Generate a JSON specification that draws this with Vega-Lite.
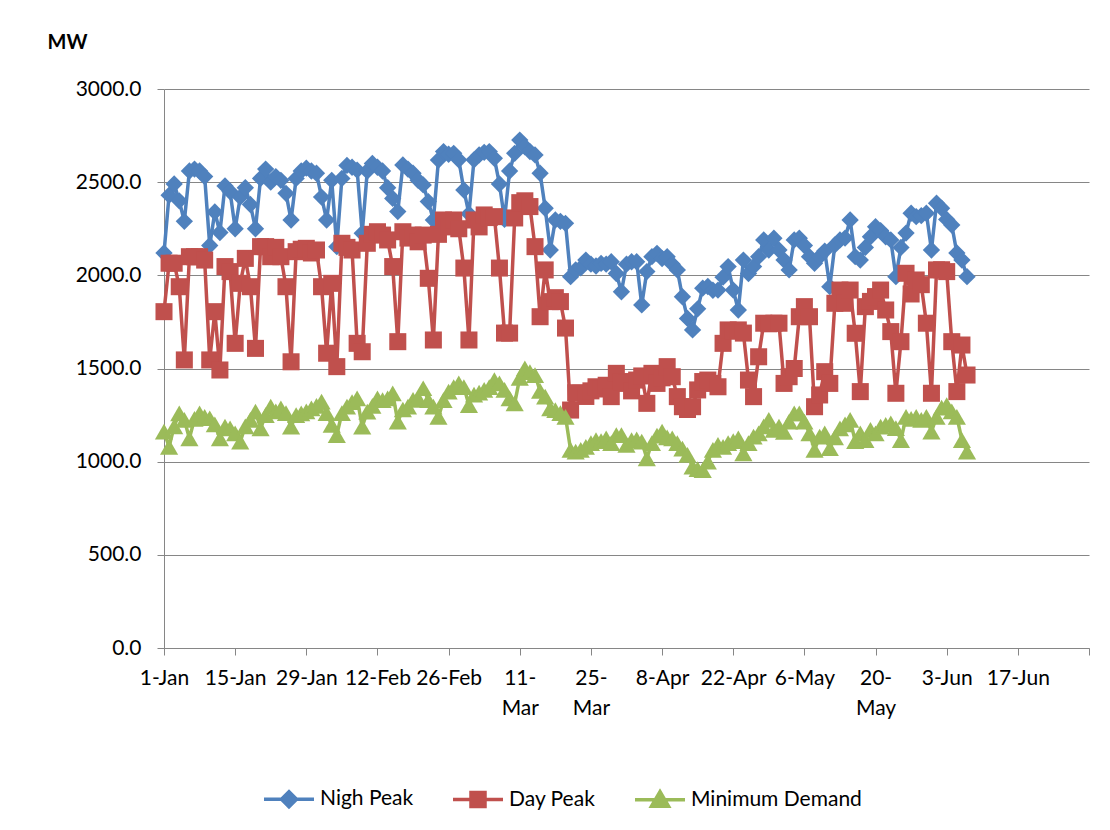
{
  "$schema": "https://vega.github.io/schema/vega-lite/v6.json",
  "autosize": {"type": "none"},
  "width": 925,
  "height": 559,
  "padding": {"left": 164, "top": 89, "right": 21, "bottom": 182},
  "background": "white",
  "data": {"values": [
    {"date":"2012-01-01","night":2120,"day":1805,"min":1161},
    {"date":"2012-01-02","night":2430,"day":2065,"min":1080},
    {"date":"2012-01-03","night":2490,"day":2065,"min":1190},
    {"date":"2012-01-04","night":2400,"day":1939,"min":1259},
    {"date":"2012-01-05","night":2290,"day":1546,"min":1224},
    {"date":"2012-01-06","night":2560,"day":2100,"min":1125},
    {"date":"2012-01-07","night":2570,"day":2100,"min":1230},
    {"date":"2012-01-08","night":2560,"day":2100,"min":1259},
    {"date":"2012-01-09","night":2530,"day":2082,"min":1240},
    {"date":"2012-01-10","night":2160,"day":1546,"min":1233},
    {"date":"2012-01-11","night":2340,"day":1805,"min":1200},
    {"date":"2012-01-12","night":2230,"day":1492,"min":1125},
    {"date":"2012-01-13","night":2480,"day":2047,"min":1188},
    {"date":"2012-01-14","night":2450,"day":2020,"min":1179},
    {"date":"2012-01-15","night":2250,"day":1635,"min":1152},
    {"date":"2012-01-16","night":2420,"day":1957,"min":1107},
    {"date":"2012-01-17","night":2470,"day":2091,"min":1190},
    {"date":"2012-01-18","night":2380,"day":1939,"min":1224},
    {"date":"2012-01-19","night":2250,"day":1608,"min":1268},
    {"date":"2012-01-20","night":2520,"day":2154,"min":1179},
    {"date":"2012-01-21","night":2570,"day":2154,"min":1250},
    {"date":"2012-01-22","night":2500,"day":2100,"min":1295},
    {"date":"2012-01-23","night":2530,"day":2150,"min":1270},
    {"date":"2012-01-24","night":2510,"day":2100,"min":1286},
    {"date":"2012-01-25","night":2440,"day":1939,"min":1260},
    {"date":"2012-01-26","night":2297,"day":1536,"min":1188},
    {"date":"2012-01-27","night":2520,"day":2127,"min":1250},
    {"date":"2012-01-28","night":2560,"day":2140,"min":1259},
    {"date":"2012-01-29","night":2575,"day":2145,"min":1270},
    {"date":"2012-01-30","night":2560,"day":2120,"min":1286},
    {"date":"2012-01-31","night":2548,"day":2136,"min":1300},
    {"date":"2012-02-01","night":2420,"day":1939,"min":1322},
    {"date":"2012-02-02","night":2297,"day":1582,"min":1260},
    {"date":"2012-02-03","night":2510,"day":1957,"min":1197},
    {"date":"2012-02-04","night":2154,"day":1510,"min":1143},
    {"date":"2012-02-05","night":2520,"day":2172,"min":1260},
    {"date":"2012-02-06","night":2590,"day":2150,"min":1295},
    {"date":"2012-02-07","night":2580,"day":2136,"min":1320},
    {"date":"2012-02-08","night":2565,"day":1635,"min":1340},
    {"date":"2012-02-09","night":2226,"day":1590,"min":1188},
    {"date":"2012-02-10","night":2560,"day":2172,"min":1268},
    {"date":"2012-02-11","night":2600,"day":2220,"min":1300},
    {"date":"2012-02-12","night":2580,"day":2234,"min":1340},
    {"date":"2012-02-13","night":2560,"day":2216,"min":1330},
    {"date":"2012-02-14","night":2470,"day":2190,"min":1340},
    {"date":"2012-02-15","night":2413,"day":2047,"min":1367},
    {"date":"2012-02-16","night":2342,"day":1644,"min":1215},
    {"date":"2012-02-17","night":2592,"day":2234,"min":1280},
    {"date":"2012-02-18","night":2570,"day":2200,"min":1295},
    {"date":"2012-02-19","night":2548,"day":2216,"min":1331},
    {"date":"2012-02-20","night":2510,"day":2180,"min":1340},
    {"date":"2012-02-21","night":2485,"day":2216,"min":1394},
    {"date":"2012-02-22","night":2396,"day":1984,"min":1330},
    {"date":"2012-02-23","night":2297,"day":1653,"min":1295},
    {"date":"2012-02-24","night":2619,"day":2220,"min":1240},
    {"date":"2012-02-25","night":2664,"day":2297,"min":1330},
    {"date":"2012-02-26","night":2650,"day":2260,"min":1376},
    {"date":"2012-02-27","night":2655,"day":2297,"min":1400},
    {"date":"2012-02-28","night":2620,"day":2250,"min":1420},
    {"date":"2012-02-29","night":2458,"day":2039,"min":1400},
    {"date":"2012-03-01","night":2330,"day":1653,"min":1304},
    {"date":"2012-03-02","night":2620,"day":2297,"min":1360},
    {"date":"2012-03-03","night":2646,"day":2260,"min":1370},
    {"date":"2012-03-04","night":2660,"day":2324,"min":1385},
    {"date":"2012-03-05","night":2664,"day":2310,"min":1400},
    {"date":"2012-03-06","night":2628,"day":2315,"min":1438},
    {"date":"2012-03-07","night":2490,"day":2039,"min":1420},
    {"date":"2012-03-08","night":2300,"day":1690,"min":1385},
    {"date":"2012-03-09","night":2560,"day":1690,"min":1340},
    {"date":"2012-03-10","night":2655,"day":2308,"min":1313},
    {"date":"2012-03-11","night":2726,"day":2390,"min":1450},
    {"date":"2012-03-12","night":2690,"day":2400,"min":1501},
    {"date":"2012-03-13","night":2664,"day":2369,"min":1480},
    {"date":"2012-03-14","night":2646,"day":2154,"min":1465},
    {"date":"2012-03-15","night":2548,"day":1778,"min":1380},
    {"date":"2012-03-16","night":2360,"day":2029,"min":1349},
    {"date":"2012-03-17","night":2136,"day":1859,"min":1286},
    {"date":"2012-03-18","night":2297,"day":1880,"min":1277},
    {"date":"2012-03-19","night":2290,"day":1859,"min":1260},
    {"date":"2012-03-20","night":2279,"day":1717,"min":1241},
    {"date":"2012-03-21","night":1993,"day":1277,"min":1063},
    {"date":"2012-03-22","night":2029,"day":1370,"min":1054},
    {"date":"2012-03-23","night":2040,"day":1367,"min":1063},
    {"date":"2012-03-24","night":2082,"day":1350,"min":1080},
    {"date":"2012-03-25","night":2060,"day":1380,"min":1100},
    {"date":"2012-03-26","night":2050,"day":1402,"min":1116},
    {"date":"2012-03-27","night":2064,"day":1390,"min":1110},
    {"date":"2012-03-28","night":2060,"day":1410,"min":1125},
    {"date":"2012-03-29","night":2073,"day":1349,"min":1100},
    {"date":"2012-03-30","night":2010,"day":1474,"min":1143},
    {"date":"2012-03-31","night":1912,"day":1430,"min":1143},
    {"date":"2012-04-01","night":2060,"day":1420,"min":1090},
    {"date":"2012-04-02","night":2073,"day":1380,"min":1116},
    {"date":"2012-04-03","night":2073,"day":1438,"min":1120},
    {"date":"2012-04-04","night":1841,"day":1460,"min":1107},
    {"date":"2012-04-05","night":2020,"day":1313,"min":1018},
    {"date":"2012-04-06","night":2100,"day":1474,"min":1100},
    {"date":"2012-04-07","night":2118,"day":1420,"min":1140},
    {"date":"2012-04-08","night":2090,"day":1450,"min":1161},
    {"date":"2012-04-09","night":2100,"day":1510,"min":1130},
    {"date":"2012-04-10","night":2060,"day":1456,"min":1125},
    {"date":"2012-04-11","night":2029,"day":1349,"min":1099},
    {"date":"2012-04-12","night":1885,"day":1295,"min":1070},
    {"date":"2012-04-13","night":1769,"day":1280,"min":1036},
    {"date":"2012-04-14","night":1707,"day":1295,"min":973},
    {"date":"2012-04-15","night":1820,"day":1385,"min":960},
    {"date":"2012-04-16","night":1931,"day":1430,"min":955},
    {"date":"2012-04-17","night":1940,"day":1438,"min":1000},
    {"date":"2012-04-18","night":1920,"day":1420,"min":1063},
    {"date":"2012-04-19","night":1921,"day":1402,"min":1090},
    {"date":"2012-04-20","night":1990,"day":1635,"min":1080},
    {"date":"2012-04-21","night":2047,"day":1707,"min":1099},
    {"date":"2012-04-22","night":1921,"day":1700,"min":1110},
    {"date":"2012-04-23","night":1814,"day":1707,"min":1125},
    {"date":"2012-04-24","night":2082,"day":1690,"min":1045},
    {"date":"2012-04-25","night":2010,"day":1438,"min":1100},
    {"date":"2012-04-26","night":2047,"day":1349,"min":1134},
    {"date":"2012-04-27","night":2100,"day":1563,"min":1152},
    {"date":"2012-04-28","night":2190,"day":1743,"min":1190},
    {"date":"2012-04-29","night":2136,"day":1740,"min":1224},
    {"date":"2012-04-30","night":2199,"day":1743,"min":1170},
    {"date":"2012-05-01","night":2136,"day":1743,"min":1188},
    {"date":"2012-05-02","night":2082,"day":1420,"min":1160},
    {"date":"2012-05-03","night":2029,"day":1456,"min":1215},
    {"date":"2012-05-04","night":2190,"day":1500,"min":1259},
    {"date":"2012-05-05","night":2199,"day":1778,"min":1259},
    {"date":"2012-05-06","night":2160,"day":1832,"min":1215},
    {"date":"2012-05-07","night":2100,"day":1778,"min":1152},
    {"date":"2012-05-08","night":2065,"day":1295,"min":1063},
    {"date":"2012-05-09","night":2100,"day":1358,"min":1134},
    {"date":"2012-05-10","night":2130,"day":1483,"min":1152},
    {"date":"2012-05-11","night":1939,"day":1420,"min":1072},
    {"date":"2012-05-12","night":2163,"day":1850,"min":1130},
    {"date":"2012-05-13","night":2190,"day":1921,"min":1179},
    {"date":"2012-05-14","night":2200,"day":1850,"min":1200},
    {"date":"2012-05-15","night":2297,"day":1921,"min":1224},
    {"date":"2012-05-16","night":2100,"day":1689,"min":1110},
    {"date":"2012-05-17","night":2082,"day":1376,"min":1152},
    {"date":"2012-05-18","night":2150,"day":1832,"min":1116},
    {"date":"2012-05-19","night":2207,"day":1860,"min":1170},
    {"date":"2012-05-20","night":2261,"day":1886,"min":1152},
    {"date":"2012-05-21","night":2240,"day":1921,"min":1188},
    {"date":"2012-05-22","night":2207,"day":1814,"min":1197},
    {"date":"2012-05-23","night":2190,"day":1698,"min":1206},
    {"date":"2012-05-24","night":1993,"day":1367,"min":1180},
    {"date":"2012-05-25","night":2150,"day":1644,"min":1116},
    {"date":"2012-05-26","night":2227,"day":2011,"min":1241},
    {"date":"2012-05-27","night":2333,"day":1900,"min":1230},
    {"date":"2012-05-28","night":2315,"day":1975,"min":1241},
    {"date":"2012-05-29","night":2320,"day":1950,"min":1224},
    {"date":"2012-05-30","night":2333,"day":1743,"min":1241},
    {"date":"2012-05-31","night":2136,"day":1367,"min":1161},
    {"date":"2012-06-01","night":2387,"day":2029,"min":1240},
    {"date":"2012-06-02","night":2360,"day":2030,"min":1290},
    {"date":"2012-06-03","night":2300,"day":2020,"min":1304},
    {"date":"2012-06-04","night":2270,"day":1644,"min":1270},
    {"date":"2012-06-05","night":2120,"day":1376,"min":1241},
    {"date":"2012-06-06","night":2082,"day":1626,"min":1116},
    {"date":"2012-06-07","night":1993,"day":1465,"min":1054}
  ]},
  "encoding": {
    "x": {
      "field": "date",
      "type": "temporal",
      "title": null,
      "scale": {
        "type": "utc",
        "domain": [
          {"year": 2012, "month": 1, "date": 1, "utc": true},
          {"year": 2012, "month": 7, "date": 1, "utc": true}
        ]
      },
      "axis": {
        "values": [
          {"year": 2012, "month": 1, "date": 1, "utc": true},
          {"year": 2012, "month": 1, "date": 15, "utc": true},
          {"year": 2012, "month": 1, "date": 29, "utc": true},
          {"year": 2012, "month": 2, "date": 12, "utc": true},
          {"year": 2012, "month": 2, "date": 26, "utc": true},
          {"year": 2012, "month": 3, "date": 11, "utc": true},
          {"year": 2012, "month": 3, "date": 25, "utc": true},
          {"year": 2012, "month": 4, "date": 8, "utc": true},
          {"year": 2012, "month": 4, "date": 22, "utc": true},
          {"year": 2012, "month": 5, "date": 6, "utc": true},
          {"year": 2012, "month": 5, "date": 20, "utc": true},
          {"year": 2012, "month": 6, "date": 3, "utc": true},
          {"year": 2012, "month": 6, "date": 17, "utc": true},
          {"year": 2012, "month": 7, "date": 1, "utc": true}
        ],
        "labelExpr": "utcFormat(datum.value, '%-d-%b') == '11-Mar' ? ['11-', 'Mar'] : utcFormat(datum.value, '%-d-%b') == '25-Mar' ? ['25-', 'Mar'] : utcFormat(datum.value, '%-d-%b') == '20-May' ? ['20-', 'May'] : utcFormat(datum.value, '%-d-%b') == '1-Jul' ? '' : utcFormat(datum.value, '%-d-%b')"
      }
    }
  },
  "layer": [
    {
      "layer": [
        {
          "mark": {"type": "line", "strokeWidth": 3.5, "strokeJoin": "round"},
          "encoding": {
            "y": {"field": "night", "type": "quantitative", "title": "MW", "scale": {"domain": [0, 3000], "nice": false}, "axis": {"values": [0, 500, 1000, 1500, 2000, 2500, 3000], "format": ".1f"}},
            "color": {
              "datum": "Nigh Peak",
              "type": "nominal",
              "scale": {
                "domain": ["Nigh Peak", "Day Peak", "Minimum Demand"],
                "range": ["#4F81BD", "#C0504D", "#9BBB59"]
              },
              "legend": {
                "title": null,
                "orient": "none",
                "legendX": 98,
                "legendY": 683,
                "direction": "horizontal",
                "padding": 0,
                "symbolSize": 2500,
                "symbolStrokeWidth": 3.5,
                "labelOffset": 4,
                "columnPadding": 32,
                "labelLimit": 0,
                "labelFont": "Lato",
                "labelFontSize": 21,
                "labelColor": "#000000",
                "encode": {
                  "symbols": {
                    "update": {
                      "shape": {"signal": "datum.value === 'Nigh Peak' ? 'M-1,0H1M-0.3,0L0,-0.3L0.3,0L0,0.3Z' : datum.value === 'Day Peak' ? 'M-1,0H1M-0.28,-0.28H0.28V0.28H-0.28Z' : 'M-1,0H1M0,-0.32L0.34,0.26H-0.34Z'"},
                      "fill": {"scale": "color", "field": "value"},
                      "stroke": {"scale": "color", "field": "value"},
                      "strokeWidth": {"value": 3.5},
                      "opacity": {"value": 1}
                    }
                  }
                }
              }
            }
          }
        },
        {
          "mark": {"type": "point", "shape": "diamond", "filled": true, "size": 300, "opacity": 1},
          "encoding": {
            "y": {"field": "night", "type": "quantitative", "title": "MW", "scale": {"domain": [0, 3000], "nice": false}, "axis": {"values": [0, 500, 1000, 1500, 2000, 2500, 3000], "format": ".1f"}},
            "color": {"datum": "Nigh Peak", "type": "nominal"}
          }
        }
      ]
    },
    {
      "layer": [
        {
          "mark": {"type": "line", "strokeWidth": 3.5, "strokeJoin": "round"},
          "encoding": {
            "y": {"field": "day", "type": "quantitative", "title": "MW", "scale": {"domain": [0, 3000], "nice": false}, "axis": {"values": [0, 500, 1000, 1500, 2000, 2500, 3000], "format": ".1f"}},
            "color": {"datum": "Day Peak", "type": "nominal"}
          }
        },
        {
          "mark": {"type": "point", "shape": "square", "filled": true, "size": 290, "opacity": 1},
          "encoding": {
            "y": {"field": "day", "type": "quantitative", "title": "MW", "scale": {"domain": [0, 3000], "nice": false}, "axis": {"values": [0, 500, 1000, 1500, 2000, 2500, 3000], "format": ".1f"}},
            "color": {"datum": "Day Peak", "type": "nominal"}
          }
        }
      ]
    },
    {
      "layer": [
        {
          "mark": {"type": "line", "strokeWidth": 3.5, "strokeJoin": "round"},
          "encoding": {
            "y": {"field": "min", "type": "quantitative", "title": "MW", "scale": {"domain": [0, 3000], "nice": false}, "axis": {"values": [0, 500, 1000, 1500, 2000, 2500, 3000], "format": ".1f"}},
            "color": {"datum": "Minimum Demand", "type": "nominal"}
          }
        },
        {
          "mark": {"type": "point", "shape": "triangle-up", "filled": true, "size": 330, "opacity": 1},
          "encoding": {
            "y": {"field": "min", "type": "quantitative", "title": "MW", "scale": {"domain": [0, 3000], "nice": false}, "axis": {"values": [0, 500, 1000, 1500, 2000, 2500, 3000], "format": ".1f"}},
            "color": {"datum": "Minimum Demand", "type": "nominal"}
          }
        }
      ]
    }
  ],
  "resolve": {"scale": {"y": "shared", "color": "shared"}},
  "config": {
    "font": "Lato",
    "view": {"stroke": null},
    "axis": {
      "labelFont": "Lato",
      "labelFontSize": 21,
      "labelColor": "#000000",
      "titleFont": "Lato",
      "titleColor": "#000000",
      "domainColor": "#868686",
      "tickColor": "#868686",
      "gridColor": "#868686",
      "domainWidth": 1,
      "tickWidth": 1,
      "gridWidth": 1,
      "tickSize": 7,
      "labelOverlap": false,
      "labelFlush": false,
      "labelBound": false
    },
    "axisY": {
      "grid": true,
      "labelPadding": 16,
      "titleAngle": 0,
      "titleAlign": "left",
      "titleBaseline": "middle",
      "titleX": -117,
      "titleY": -47,
      "titleFontSize": 20,
      "titleFontWeight": "bold"
    },
    "axisX": {
      "grid": false,
      "labelPadding": 12,
      "labelLineHeight": 30
    }
  }
}
